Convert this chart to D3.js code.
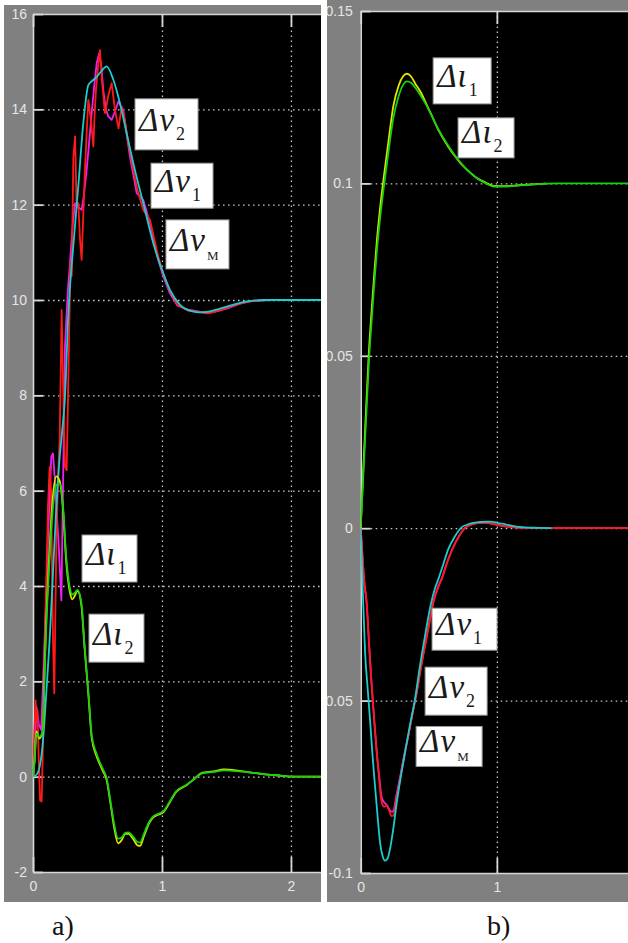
<!DOCTYPE html>
<html>
<head>
<meta charset="utf-8">
<script src="https://cdn.jsdelivr.net/npm/d3@7"></script>
<style>
  html, body { margin: 0; padding: 0; background: #fff; }
  svg { display: block; }
</style>
</head>
<body>
<svg id="fig" width="628" height="943"></svg>
<script>
// ---------- panel a) : time axis (s) ----------
const aXTicks = [0, 1, 2];
const aXLabels = ["0", "1", "2"];
const aYTicks = [-2, 0, 2, 4, 6, 8, 10, 12, 14, 16];
const aYLabels = ["-2", "0", "2", "4", "6", "8", "10", "12", "14", "16"];

// Δι1 (yellow) and Δι2 (green) share one time base
const aIotaT = [0, 0.013, 0.026, 0.05, 0.078, 0.09, 0.103, 0.129, 0.155, 0.181, 0.207, 0.233, 0.258, 0.284, 0.305, 0.325, 0.345, 0.375, 0.40, 0.43, 0.455, 0.49, 0.52, 0.545, 0.57, 0.60, 0.63, 0.66, 0.69, 0.715, 0.74, 0.78, 0.81, 0.83, 0.86, 0.90, 0.93, 0.97, 1.01, 1.06, 1.11, 1.19, 1.25, 1.31, 1.40, 1.48, 1.60, 1.71, 1.80, 1.89, 2.0, 2.25];
const aIota1 = [0, 0.4, 0.95, 0.8, 1.0, 2.3, 3.3, 4.8, 5.9, 6.3, 6.2, 5.6, 4.5, 3.9, 3.72, 3.8, 3.9, 3.6, 2.7, 1.7, 0.82, 0.45, 0.25, 0.1, -0.06, -0.55, -1.08, -1.4, -1.32, -1.2, -1.2, -1.32, -1.44, -1.45, -1.25, -0.98, -0.86, -0.8, -0.75, -0.54, -0.32, -0.18, -0.05, 0.08, 0.11, 0.15, 0.12, 0.08, 0.05, 0.03, 0, 0];
const aIota2 = [0, 0.35, 0.91, 0.84, 0.98, 2.17, 3.15, 4.6, 5.66, 6.12, 6.15, 5.66, 4.6, 3.99, 3.82, 3.86, 3.92, 3.64, 2.73, 1.75, 0.87, 0.5, 0.29, 0.14, -0.02, -0.5, -1.0, -1.3, -1.27, -1.18, -1.17, -1.27, -1.37, -1.38, -1.2, -0.95, -0.84, -0.78, -0.73, -0.52, -0.31, -0.17, -0.05, 0.07, 0.1, 0.13, 0.11, 0.08, 0.05, 0.03, 0, 0];

// Δν1 (magenta)
const aNu1T = [0, 0.013, 0.026, 0.045, 0.064, 0.09, 0.116, 0.142, 0.155, 0.17, 0.185, 0.2, 0.22, 0.235, 0.248, 0.27, 0.287, 0.305, 0.326, 0.35, 0.377, 0.395, 0.416, 0.435, 0.455, 0.475, 0.494, 0.514, 0.53, 0.545, 0.565, 0.584, 0.61, 0.635, 0.661, 0.7, 0.725, 0.752, 0.78, 0.804, 0.855, 0.907, 0.971, 1.01, 1.06, 1.12, 1.2, 1.28, 1.346, 1.42, 1.5, 1.6, 1.7, 1.85, 2.0, 2.25];
const aNu1 = [0, 0.35, 1.47, 1.1, 0.98, 2.87, 4.97, 6.71, 6.78, 6.2, 5.5, 4.8, 3.7, 6.5, 9.02, 10.2, 10.77, 11.5, 12.03, 11.95, 11.89, 12.2, 12.73, 13.3, 13.92, 14.5, 14.97, 15.18, 14.9, 14.4, 14.0, 13.85, 13.78, 13.95, 14.16, 13.99, 13.5, 13.0, 12.6, 12.24, 12.1, 11.61, 10.84, 10.5, 10.15, 9.88, 9.8, 9.76, 9.72, 9.76, 9.82, 9.92, 9.98, 10, 10, 10];

// Δν2 (red)
const aNu2T = [0, 0.01, 0.02, 0.026, 0.035, 0.045, 0.055, 0.067, 0.075, 0.088, 0.103, 0.116, 0.129, 0.14, 0.155, 0.165, 0.181, 0.195, 0.207, 0.222, 0.235, 0.248, 0.261, 0.275, 0.29, 0.3, 0.313, 0.326, 0.338, 0.351, 0.364, 0.377, 0.39, 0.403, 0.416, 0.429, 0.448, 0.468, 0.478, 0.488, 0.505, 0.519, 0.535, 0.558, 0.585, 0.61, 0.635, 0.663, 0.687, 0.71, 0.739, 0.778, 0.81, 0.855, 0.907, 0.971, 1.01, 1.06, 1.12, 1.2, 1.3, 1.36, 1.45, 1.55, 1.65, 1.8, 2.0, 2.25];
const aNu2 = [0, 0.9, 1.6, 1.2, 1.4, 0.3, -0.5, -0.52, 0.4, 2.17, 4.06, 5.66, 6.5, 6.0, 2.87, 1.75, 4.97, 6.3, 7.06, 9.79, 8.0, 6.5, 6.43, 8.5, 10.77, 10.5, 13.0, 13.43, 12.0, 12.03, 11.3, 10.84, 11.8, 12.73, 13.5, 14.2, 13.8, 13.22, 13.9, 14.41, 14.9, 15.24, 14.6, 13.92, 14.3, 14.55, 14.0, 13.6, 14.05, 13.8, 13.29, 12.73, 12.3, 11.89, 11.68, 10.91, 10.55, 10.2, 9.9, 9.78, 9.74, 9.72, 9.78, 9.88, 9.96, 10, 10, 10];

// Δν_M (cyan)
const aNuMT = [0, 0.03, 0.052, 0.078, 0.103, 0.129, 0.155, 0.181, 0.207, 0.228, 0.248, 0.274, 0.312, 0.351, 0.39, 0.429, 0.46, 0.494, 0.53, 0.571, 0.623, 0.674, 0.726, 0.79, 0.855, 0.933, 0.965, 1.01, 1.062, 1.14, 1.24, 1.29, 1.35, 1.45, 1.55, 1.66, 1.8, 2.0, 2.25];
const aNuM = [0, 0.05, 0.21, 0.77, 1.75, 2.87, 4.27, 5.66, 6.7, 7.3, 7.97, 9.72, 11.12, 12.38, 13.71, 14.51, 14.6, 14.68, 14.8, 14.9, 14.62, 14.13, 13.5, 12.73, 12.03, 11.19, 10.9, 10.56, 10.21, 9.9, 9.76, 9.74, 9.75, 9.82, 9.9, 9.97, 10, 10, 10];

// ---------- panel b) ----------
const bXTicks = [0, 1];
const bXLabels = ["0", "1"];
const bYTicks = [-0.1, -0.05, 0, 0.05, 0.1, 0.15];
const bYLabels = ["-0.1", "-0.05", "0", "0.05", "0.1", "0.15"];

const bIotaT = [0, 0.02, 0.04, 0.06, 0.08, 0.1, 0.12, 0.14, 0.17, 0.2, 0.24, 0.28, 0.31, 0.34, 0.37, 0.4, 0.44, 0.485, 0.53, 0.57, 0.607, 0.65, 0.69, 0.73, 0.78, 0.853, 0.92, 0.975, 1.05, 1.17, 1.3, 1.36];
const bIota1 = [0, 0.018, 0.035, 0.051, 0.063, 0.074, 0.084, 0.092, 0.102, 0.111, 0.1225, 0.1285, 0.131, 0.1318, 0.131, 0.129, 0.1265, 0.1228, 0.119, 0.1155, 0.113, 0.1102, 0.108, 0.106, 0.104, 0.1016, 0.1002, 0.0993, 0.0992, 0.0995, 0.0998, 0.1];
const bIota2T = [0, 0.02, 0.04, 0.06, 0.08, 0.1, 0.12, 0.14, 0.17, 0.2, 0.24, 0.28, 0.31, 0.34, 0.37, 0.4, 0.44, 0.485, 0.53, 0.57, 0.607, 0.65, 0.69, 0.73, 0.78, 0.853, 0.92, 0.975, 1.05, 1.17, 1.3, 1.45, 1.97];
const bIota2 = [0, 0.016, 0.032, 0.048, 0.06, 0.071, 0.081, 0.089, 0.099, 0.108, 0.119, 0.1255, 0.1285, 0.1296, 0.1292, 0.1278, 0.1255, 0.1225, 0.119, 0.1157, 0.1132, 0.1105, 0.1082, 0.1062, 0.104, 0.1015, 0.1, 0.0991, 0.0991, 0.0994, 0.0998, 0.1, 0.1];

const bNuT = [0, 0.01, 0.025, 0.044, 0.062, 0.081, 0.1, 0.118, 0.136, 0.154, 0.172, 0.191, 0.21, 0.225, 0.24, 0.26, 0.289, 0.32, 0.35, 0.38, 0.412, 0.44, 0.473, 0.5, 0.534, 0.57, 0.596, 0.63, 0.669, 0.72, 0.765, 0.82, 0.9, 0.98, 1.05, 1.15, 1.3, 1.97];
const bNu1 = [0, -0.006, -0.015, -0.022, -0.034, -0.046, -0.056, -0.065, -0.072, -0.078, -0.0795, -0.0802, -0.0815, -0.0822, -0.082, -0.078, -0.0722, -0.0657, -0.06, -0.0538, -0.0474, -0.0408, -0.0338, -0.0283, -0.0213, -0.0168, -0.0145, -0.0104, -0.0064, -0.0024, 0, 0.0012, 0.0016, 0.0012, 0.0006, 0.0002, 0, 0];
const bNu2 = [0, -0.006, -0.015, -0.0215, -0.034, -0.0456, -0.056, -0.065, -0.073, -0.0795, -0.0808, -0.0805, -0.082, -0.0835, -0.0834, -0.079, -0.0727, -0.066, -0.0602, -0.054, -0.0476, -0.041, -0.034, -0.0285, -0.0215, -0.017, -0.0147, -0.0105, -0.0065, -0.0025, 0, 0.0012, 0.0016, 0.0012, 0.0006, 0.0002, 0, 0];
const bNuMT = [0, 0.005, 0.015, 0.032, 0.05, 0.068, 0.087, 0.105, 0.125, 0.142, 0.16, 0.179, 0.197, 0.215, 0.24, 0.265, 0.295, 0.326, 0.36, 0.399, 0.435, 0.473, 0.51, 0.545, 0.571, 0.61, 0.644, 0.69, 0.743, 0.78, 0.816, 0.88, 0.938, 1.037, 1.1, 1.18, 1.3, 1.4];
const bNuM = [0, -0.005, -0.018, -0.036, -0.046, -0.0553, -0.066, -0.0747, -0.084, -0.0911, -0.095, -0.0964, -0.0958, -0.0931, -0.087, -0.0795, -0.072, -0.065, -0.0575, -0.0495, -0.04, -0.0311, -0.023, -0.0175, -0.0147, -0.01, -0.006, -0.0025, 0.0003, 0.001, 0.0015, 0.0018, 0.0019, 0.0013, 0.0008, 0.0003, 0.0001, 0];

// ---------- drawing ----------
const COL = { red: "#ff1a1a", mag: "#f020f0", cyan: "#1ecccc", yel: "#e4e400", grn: "#12d212" };
const svg = d3.select("#fig");
svg.append("rect").attr("width", 628).attr("height", 943).attr("fill", "#fff");
const defs = svg.append("defs");

function panel(cfg) {
  const { id, bg, plot, xDom, yDom, xTicks, xLabels, yTicks, yLabels } = cfg;
  defs.append("clipPath").attr("id", id + "-bg")
    .append("rect").attr("x", bg[0]).attr("y", bg[1]).attr("width", bg[2]).attr("height", bg[3]);
  defs.append("clipPath").attr("id", id + "-plot")
    .append("rect").attr("x", plot[0]).attr("y", plot[1]).attr("width", plot[2] - plot[0]).attr("height", plot[3] - plot[1]);

  const g = svg.append("g").attr("clip-path", `url(#${id}-bg)`);
  g.append("rect").attr("x", bg[0]).attr("y", bg[1]).attr("width", bg[2]).attr("height", bg[3]).attr("fill", "#808080");
  g.append("rect").attr("x", plot[0]).attr("y", plot[1]).attr("width", plot[2] - plot[0]).attr("height", plot[3] - plot[1]).attr("fill", "#000");

  const x = d3.scaleLinear(xDom, [plot[0], plot[2]]);
  const y = d3.scaleLinear(yDom, [plot[3], plot[1]]);
  const W = plot[2] - plot[0], H = plot[3] - plot[1];

  // dotted grid
  const grid = g.append("g").attr("class", "grid");
  grid.append("g").attr("transform", `translate(0,${plot[3]})`)
    .call(d3.axisBottom(x).tickValues(xTicks.filter(v => v > xDom[0])).tickSize(-H).tickFormat(""));
  grid.append("g").attr("transform", `translate(${plot[0]},0)`)
    .call(d3.axisLeft(y).tickValues(yTicks.filter(v => v > yDom[0] && v < yDom[1])).tickSize(-W).tickFormat(""));
  grid.selectAll(".domain").remove();
  grid.selectAll("line").attr("stroke", "#c4c4c4").attr("stroke-width", 1.3).attr("stroke-dasharray", "1.6,3.4");

  const style = sel => {
    sel.selectAll(".domain").attr("stroke", "#d6d6d6").attr("stroke-width", 1.6);
    sel.selectAll(".tick line").attr("stroke", "#d6d6d6").attr("stroke-width", 1.8);
    sel.selectAll(".tick text").attr("fill", "#e6e6e6").attr("font-family", "'Liberation Sans', Arial, sans-serif").attr("font-size", 14);
  };
  g.append("g").attr("transform", `translate(0,${plot[3]})`)
    .call(d3.axisBottom(x).tickValues(xTicks).tickSize(-15).tickSizeOuter(0).tickPadding(9).tickFormat((d, i) => xLabels[i]))
    .call(style);
  g.append("g").attr("transform", `translate(0,${plot[1]})`)
    .call(d3.axisTop(x).tickValues(xTicks).tickSize(-13).tickSizeOuter(0).tickFormat(""))
    .call(style);
  g.append("g").attr("transform", `translate(${plot[0]},0)`)
    .call(d3.axisLeft(y).tickValues(yTicks).tickSize(-10).tickSizeOuter(0).tickPadding(cfg.yPad).tickFormat((d, i) => yLabels[i]))
    .call(style);

  const lines = g.append("g").attr("clip-path", `url(#${id}-plot)`);
  return { g, x, y, lines };
}

function series(p, ts, vs, color, curve) {
  const pts = ts.map((t, i) => [t, vs[i]]);
  p.lines.append("path")
    .attr("d", d3.line().x(d => p.x(d[0])).y(d => p.y(d[1])).curve(curve)(pts))
    .attr("fill", "none").attr("stroke", color).attr("stroke-width", 1.8)
    .attr("stroke-linejoin", "round");
}

// white annotation box with an italic Δ-symbol and its subscript
function tag(p, t, v, w, h, letter, sub) {
  const x0 = p.x(t), y0 = p.y(v);
  const g = p.g.append("g");
  g.append("rect").attr("x", x0).attr("y", y0).attr("width", w).attr("height", h)
    .attr("fill", "#fff").attr("stroke", "#9a9a9a").attr("stroke-width", 1);
  const txt = g.append("text").attr("x", x0 + 4).attr("y", y0 + h * 0.64)
    .attr("font-family", "'Liberation Serif', 'Times New Roman', serif").attr("fill", "#1a1a1a")
    .attr("font-style", "italic");
  txt.append("tspan").attr("font-size", 33).attr("letter-spacing", 1).text("Δ" + letter);
  txt.append("tspan").attr("font-size", sub === "M" ? 13 : 18).attr("font-style", "normal")
    .attr("dy", 9).attr("dx", 1).text(sub);
}

// panel a)
const pa = panel({
  id: "pa", bg: [4, 5, 317, 897], plot: [33, 14, 321, 872],
  xDom: [0, 2.233], yDom: [-2, 16], xTicks: aXTicks, xLabels: aXLabels,
  yTicks: aYTicks, yLabels: aYLabels, yPad: 6
});
series(pa, aNu1T, aNu1, COL.mag, d3.curveLinear);
series(pa, aNu2T, aNu2, COL.red, d3.curveLinear);
series(pa, aNuMT, aNuM, COL.cyan, d3.curveMonotoneX);
series(pa, aIotaT, aIota1, COL.yel, d3.curveMonotoneX);
series(pa, aIotaT, aIota2, COL.grn, d3.curveMonotoneX);

tag(pa, 0.791, 14.22, 63, 51, "ν", "2");
tag(pa, 0.915, 12.87, 62, 45, "ν", "1");
tag(pa, 1.031, 11.68, 63, 49, "ν", "M");
tag(pa, 0.38, 5.07, 55, 47, "ι", "1");
tag(pa, 0.434, 3.41, 55, 48, "ι", "2");

// panel b)
const pb = panel({
  id: "pb", bg: [327, 0, 301, 902], plot: [360.7, 11, 628, 873],
  xDom: [0, 1.963], yDom: [-0.1, 0.15], xTicks: bXTicks, xLabels: bXLabels,
  yTicks: bYTicks, yLabels: bYLabels, yPad: 8
});
series(pb, bNuT, bNu1, COL.mag, d3.curveMonotoneX);
series(pb, bNuT, bNu2, COL.red, d3.curveMonotoneX);
series(pb, bNuMT, bNuM, COL.cyan, d3.curveMonotoneX);
series(pb, bIotaT, bIota1, COL.yel, d3.curveMonotoneX);
series(pb, bIota2T, bIota2, COL.grn, d3.curveMonotoneX);

tag(pb, 0.532, 0.1364, 58, 46, "ι", "1");
tag(pb, 0.715, 0.119, 56, 40, "ι", "2");
tag(pb, 0.524, -0.0232, 65, 42, "ν", "1");
tag(pb, 0.473, -0.0403, 62, 48, "ν", "2");
tag(pb, 0.407, -0.0575, 66, 40, "ν", "M");

// captions
const cap = svg.append("g").attr("font-family", "'Liberation Serif', 'Times New Roman', serif")
  .attr("font-size", 28).attr("fill", "#111");
cap.append("text").attr("x", 52).attr("y", 935).text("a)");
cap.append("text").attr("x", 487).attr("y", 935).text("b)");
</script>
</body>
</html>
